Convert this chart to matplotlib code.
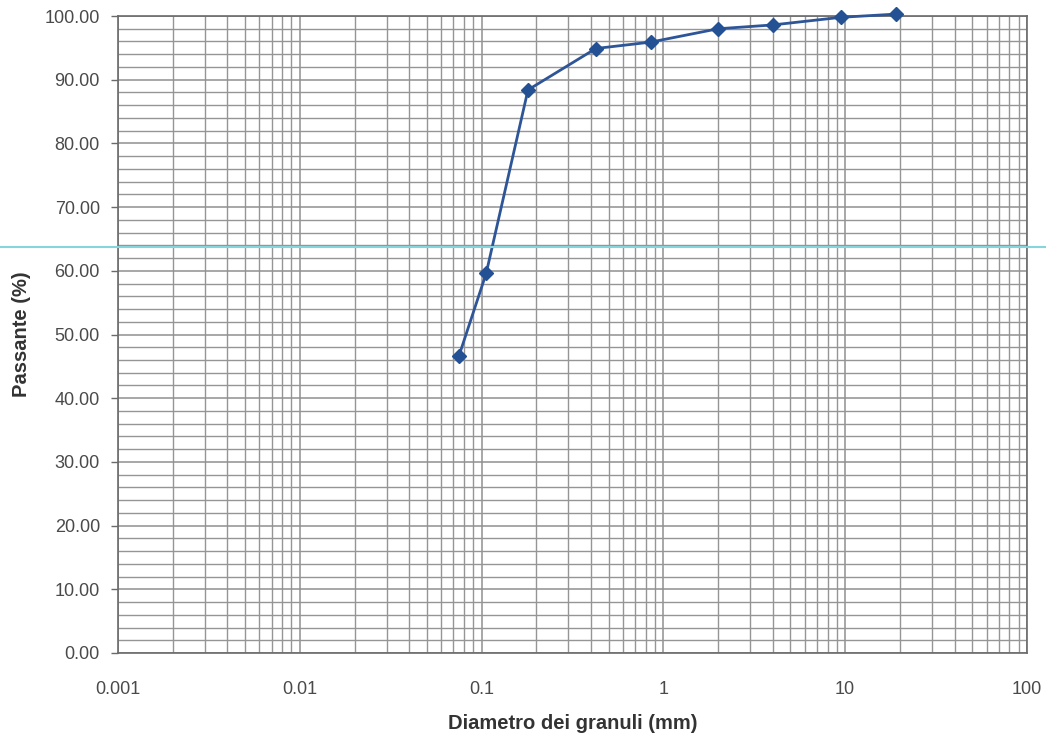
import numpy as np
import matplotlib
matplotlib.use("Agg")
import matplotlib.pyplot as plt
from matplotlib.ticker import LogLocator, FixedLocator, FuncFormatter, MultipleLocator
from matplotlib.lines import Line2D

# Curva granulometrica
diametri = [0.075, 0.106, 0.18, 0.425, 0.85, 2.0, 4.0, 9.5, 19.0]
passante = [46.6, 59.6, 88.4, 94.9, 95.9, 98.0, 98.6, 99.8, 100.3]

x_ticks = [0.001, 0.01, 0.1, 1, 10, 100]
x_labels = ['0.001', '0.01', '0.1', '1', '10', '100']

plt.rcParams['font.family'] = ['Liberation Sans', 'DejaVu Sans']

fig = plt.figure(figsize=(10.46, 7.45), dpi=100)
ax = fig.add_axes([0.1128, 0.1235, 0.8690, 0.8550])

ax.set_xscale('log')
ax.set_xlim(0.001, 100)
ax.set_ylim(0, 100)

ax.xaxis.set_major_locator(FixedLocator(x_ticks))
ax.set_xticklabels(x_labels)
ax.xaxis.set_minor_locator(LogLocator(base=10, subs=np.arange(2, 10)))
ax.xaxis.set_minor_formatter(FuncFormatter(lambda v, p: ''))
ax.yaxis.set_major_locator(MultipleLocator(10))
ax.yaxis.set_minor_locator(MultipleLocator(2))
ax.yaxis.set_major_formatter(FuncFormatter(lambda v, p: '%.2f' % v))

# griglia fitta tipo carta semilogaritmica
ax.grid(True, which='major', color='#909090', linewidth=1.1)
ax.grid(True, which='minor', color='#959595', linewidth=1.0)
ax.set_axisbelow(True)

for s in ax.spines.values():
    s.set_color('#6a6a6a')
    s.set_linewidth(1.2)

ax.tick_params(axis='x', which='both', length=0, pad=20, labelsize=13, labelcolor='#4a4a4a')
ax.tick_params(axis='y', which='major', length=5, width=1, color='#6a6a6a', pad=8,
               labelsize=13, labelcolor='#4a4a4a')
ax.tick_params(axis='y', which='minor', length=0)

ax.plot(diametri, passante, color='#2d5597', linewidth=2, marker='D', markersize=7.5,
        markerfacecolor='#245193', markeredgecolor='#245193', clip_on=False, zorder=5)

ax.set_ylabel('Passante (%)', fontsize=14.5, fontweight='bold', color='#333333', labelpad=10)
ax.set_xlabel('Diametro dei granuli (mm)', fontsize=14.5, fontweight='bold', color='#333333', labelpad=12)

# riga azzurra della scansione
fig.add_artist(Line2D([0, 1], [1 - 247 / 745, 1 - 247 / 745], transform=fig.transFigure,
                      color='#86d4dc', linewidth=1.5))

fig.savefig('out.png', dpi=100)
